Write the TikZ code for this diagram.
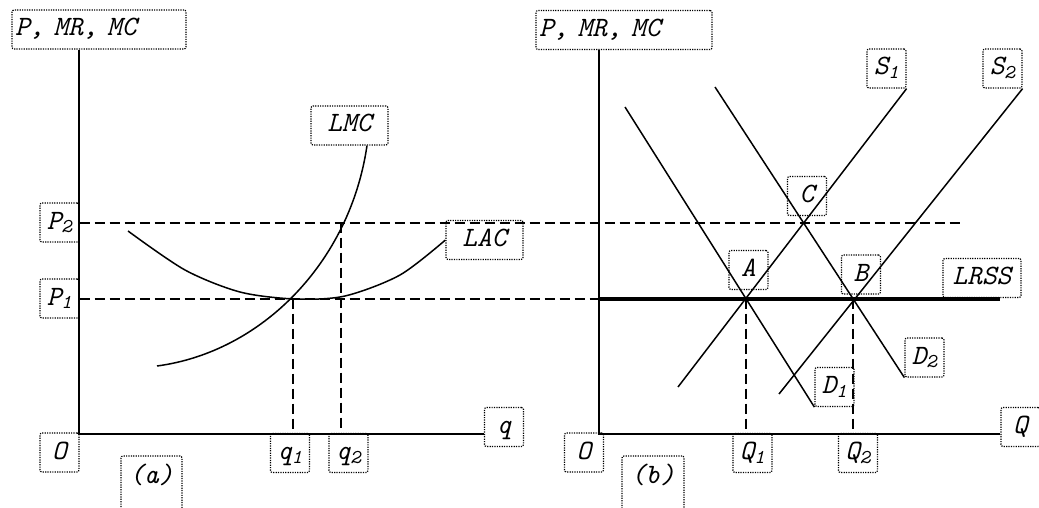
\documentclass[tikz,border=0pt]{standalone}
\usepackage{fontspec}
\usetikzlibrary{calc}

\tikzset{
  lbl/.style={draw,dash pattern=on 1.2pt off 1.2pt,line width=1.2pt,rounded corners=2pt,
    minimum width=39pt,minimum height=39pt,inner sep=0pt,
    font={\ttfamily\itshape\fontsize{28}{32}\selectfont},text height=18pt,text depth=5pt},
  axis/.style={line width=2pt},
  curve/.style={line width=1.5pt},
  guide/.style={line width=2pt,dash pattern=on 10pt off 5pt},
}

\begin{document}
\begin{tikzpicture}[x=1pt,y=-1pt]
  \useasboundingbox (0,0) rectangle (1039,508);
  % (a) the firm
  \node[lbl,text width=168pt,align=left,inner xsep=3pt] (ylA) at (99,29.5) {P, MR, MC};
  \node[lbl] (P2) at (59.5,222.5) {P\textsubscript{2}};
  \node[lbl] (P1) at (59.5,298.5) {P\textsubscript{1}};
  \node[lbl] (OA) at (59.5,452.5) {O};
  \node[lbl,minimum width=61pt,text height=27pt,text depth=40pt,anchor=base] (capA) at (151.5,483) {(a)};
  \node[lbl] (q1) at (290,453) {q\textsubscript{1}};
  \node[lbl] (q2) at (348.5,453) {q\textsubscript{2}};
  \node[lbl] (q) at (504,427) {q};
  \node[lbl,minimum width=77pt] (LMC) at (349.5,125.5) {LMC};
  \node[lbl,minimum width=77pt] (LAC) at (484.5,240) {LAC};
  \coordinate (oA) at (79,434);
  \coordinate (e1) at (293,298.5);
  \coordinate (e2) at (341,222.5);
  \draw[axis] (ylA.south -| oA) -- (oA) -- (q.west |- oA);
  \draw[curve] plot[smooth] coordinates {(128,231) (185,270) (240,292) (295,299) (345,296) (400,275) (LAC.west)};
  \draw[curve] (157,366) .. controls (262,352) and (350,262) .. ($(LMC.south)+(17.5,0)$);
  \draw[guide] (e1) -- (e1 |- oA);
  \draw[guide] (e2) -- (e2 |- oA);

  % (b) the industry
  \node[lbl,text width=170pt,align=left,inner xsep=3pt] (ylB) at (624,30) {P, MR, MC};
  \node[lbl] (OB) at (584,452.5) {O};
  \node[lbl,minimum width=62pt,text height=27pt,text depth=40pt,anchor=base] (capB) at (653,483) {(b)};
  \node[lbl] (Q1) at (752.5,453) {Q\textsubscript{1}};
  \node[lbl] (Q2) at (858,453) {Q\textsubscript{2}};
  \node[lbl] (Q) at (1020.5,427) {Q};
  \node[lbl,minimum width=78pt] (LRSS) at (982,278) {LRSS};
  \node[lbl] (Alab) at (748.5,270) {A};
  \node[lbl] (Blab) at (861,274.5) {B};
  \node[lbl] (Clab) at (807,196) {C};
  \node[lbl] (D1) at (834.5,387) {D\textsubscript{1}};
  \node[lbl] (D2) at (924.5,357.5) {D\textsubscript{2}};
  \node[lbl] (S1) at (886.5,68.5) {S\textsubscript{1}};
  \node[lbl] (S2) at (1002.5,68.5) {S\textsubscript{2}};
  \coordinate (oB) at (599,434);
  \coordinate (A) at (746,298.5);
  \coordinate (B) at (853,298.5);
  \coordinate (C) at (803,222.5);
  \coordinate (s1) at (678,387);
  \coordinate (s2) at (779,394);
  \coordinate (d1) at (625,107);
  \coordinate (d2) at (715,87);
  \coordinate (pEnd) at (963,222.5);
  \coordinate (lrss) at (1000,298.5);
  \draw[axis] (ylB.south -| oB) -- (oB) -- (Q.west |- oB);
  \draw[curve] (s1) -- (S1.south east);
  \draw[curve] (s2) -- (S2.south east);
  \draw[curve] (d1) -- (D1.south west);
  \draw[curve] (d2) -- (D2.south west);
  \draw[line width=4pt] (P1.east -| oB) -- (lrss);
  \draw[guide] (A) -- (A |- oB);
  \draw[guide] (B) -- (B |- oB);

  % prices across both panels
  \draw[guide] (P2.east) -- (pEnd);
  \draw[guide] (P1.east) -- (P1.east -| oB);
\end{tikzpicture}
\end{document}
